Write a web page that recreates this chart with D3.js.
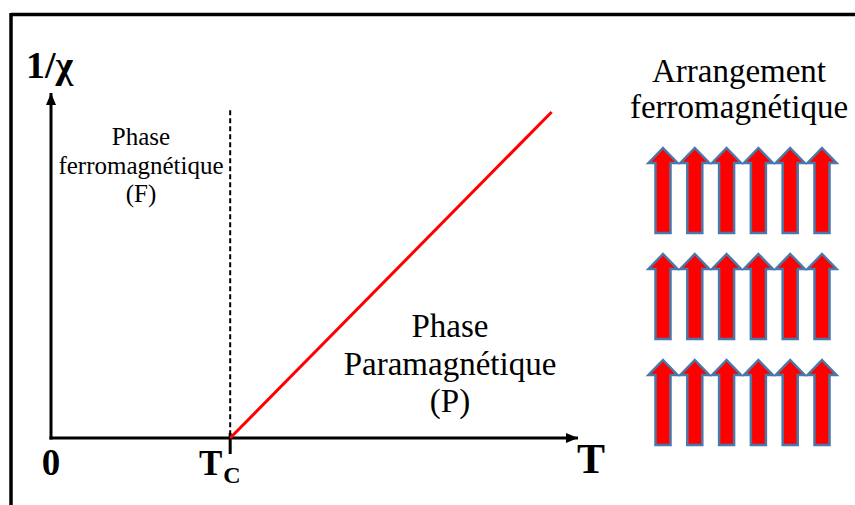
<!DOCTYPE html>
<html>
<head>
<meta charset="utf-8">
<script src="https://cdn.jsdelivr.net/npm/d3@7"></script>
<style>
  html, body { margin: 0; padding: 0; background: #fff; }
  svg { display: block; }
</style>
</head>
<body>
<svg id="chart" width="855" height="505"></svg>
<script>
// ---- data ----
const tDomain = [0, 10];          // temperature axis (arbitrary units)
const invChiDomain = [0, 10];     // 1/chi axis (arbitrary units)
const curieT = 3.4;               // Tc
const paraLine = [               // Curie-Weiss law above Tc
  { T: 3.4, inv: 0 },
  { T: 9.5, inv: 9.45 }
];
const dashTop = 9.5;
const leftLabel = ["Phase", "ferromagnétique", "(F)"];
const rightLabel = ["Phase", "Paramagnétique", "(P)"];
const arrangeLabel = ["Arrangement", "ferromagnétique"];
const arrowRows = ["r1", "r2", "r3"];
const arrowCols = ["c1", "c2", "c3", "c4", "c5", "c6"];

// ---- drawing ----
const FONT = "Liberation Serif";
const svg = d3.select("#chart").attr("font-family", FONT);
const W = 855, H = 505;

const x = d3.scaleLinear().domain(tDomain).range([51, 578]);
const y = d3.scaleLinear().domain(invChiDomain).range([438, 93]);

// frame (top and left border)
svg.append("line").attr("x1", 11).attr("x2", W).attr("y1", 14.5).attr("y2", 14.5)
  .attr("stroke", "#000").attr("stroke-width", 3.5);
svg.append("line").attr("x1", 11).attr("x2", 11).attr("y1", 13).attr("y2", H)
  .attr("stroke", "#000").attr("stroke-width", 3.5);

// arrowhead marker
const defs = svg.append("defs");
defs.append("marker").attr("id", "ah")
  .attr("viewBox", "0 0 12 10").attr("refX", 12).attr("refY", 5)
  .attr("markerWidth", 12).attr("markerHeight", 10)
  .attr("markerUnits", "userSpaceOnUse").attr("orient", "auto")
  .append("path").attr("d", "M0,0 L12,5 L0,10 Z").attr("fill", "#000");

// axes
svg.append("line")
  .attr("x1", x(0)).attr("y1", y(0) + 1.5).attr("x2", x(0)).attr("y2", y(invChiDomain[1]))
  .attr("stroke", "#000").attr("stroke-width", 3).attr("marker-end", "url(#ah)");
svg.append("line")
  .attr("x1", x(0) - 1.5).attr("y1", y(0)).attr("x2", x(tDomain[1])).attr("y2", y(0))
  .attr("stroke", "#000").attr("stroke-width", 3).attr("marker-end", "url(#ah)");

// dashed line at Tc
svg.append("line")
  .attr("x1", x(curieT)).attr("x2", x(curieT))
  .attr("y1", y(dashTop)).attr("y2", y(0) - 5)
  .attr("stroke", "#000").attr("stroke-width", 2).attr("stroke-dasharray", "5,3");
// tick at Tc
svg.append("line")
  .attr("x1", x(curieT)).attr("x2", x(curieT))
  .attr("y1", y(0) - 5).attr("y2", y(0) + 16)
  .attr("stroke", "#000").attr("stroke-width", 3);

// paramagnetic line
svg.append("path").datum(paraLine)
  .attr("d", d3.line().x(d => x(d.T)).y(d => y(d.inv)))
  .attr("fill", "none").attr("stroke", "#ff0000").attr("stroke-width", 3);

// axis labels
const txt = (sel) => sel.attr("font-family", FONT).attr("fill", "#000");
txt(svg.append("text")).attr("x", 26).attr("y", 78)
  .attr("font-size", 38).attr("font-weight", "bold").text("1/χ");
txt(svg.append("text")).attr("x", x(0)).attr("y", 475).attr("text-anchor", "middle")
  .attr("font-size", 37).attr("font-weight", "bold").text("0");
const tc = txt(svg.append("text")).attr("x", 199).attr("y", 475)
  .attr("font-size", 35).attr("font-weight", "bold");
tc.append("tspan").text("T");
tc.append("tspan").attr("font-size", 24).attr("dy", 8).attr("dx", 1).text("C");
txt(svg.append("text")).attr("x", 591).attr("y", 473).attr("text-anchor", "middle")
  .attr("font-size", 42).attr("font-weight", "bold").text("T");

// region labels
txt(svg.append("g").selectAll("text").data(leftLabel).join("text"))
  .attr("x", 141).attr("y", (d, i) => 145 + i * 28.5)
  .attr("text-anchor", "middle").attr("font-size", 25).text(d => d);
txt(svg.append("g").selectAll("text").data(rightLabel).join("text"))
  .attr("x", 450).attr("y", (d, i) => 337 + i * 37.5)
  .attr("text-anchor", "middle").attr("font-size", 33).text(d => d);
txt(svg.append("g").selectAll("text").data(arrangeLabel).join("text"))
  .attr("x", 739).attr("y", (d, i) => 82 + i * 36)
  .attr("text-anchor", "middle").attr("font-size", 33).text(d => d);

// spin arrows
const ax = d3.scalePoint().domain(arrowCols).range([663, 822]);
const ay = d3.scalePoint().domain(arrowRows).range([148, 360]);
const arrowLen = 85, headLen = 15, headW = 29, shaftW = 15;
function arrowPath(cx, top) {
  const p = d3.path();
  p.moveTo(cx, top);
  p.lineTo(cx + headW / 2, top + headLen);
  p.lineTo(cx + shaftW / 2, top + headLen);
  p.lineTo(cx + shaftW / 2, top + arrowLen);
  p.lineTo(cx - shaftW / 2, top + arrowLen);
  p.lineTo(cx - shaftW / 2, top + headLen);
  p.lineTo(cx - headW / 2, top + headLen);
  p.closePath();
  return p.toString();
}
const cells = [];
arrowRows.forEach(r => arrowCols.forEach(c => cells.push({ r, c })));
svg.append("g").selectAll("path").data(cells).join("path")
  .attr("d", d => arrowPath(ax(d.c), ay(d.r)))
  .attr("fill", "#ff0000").attr("stroke", "#4a78a8").attr("stroke-width", 2.5)
  .attr("stroke-linejoin", "miter");
</script>
</body>
</html>
